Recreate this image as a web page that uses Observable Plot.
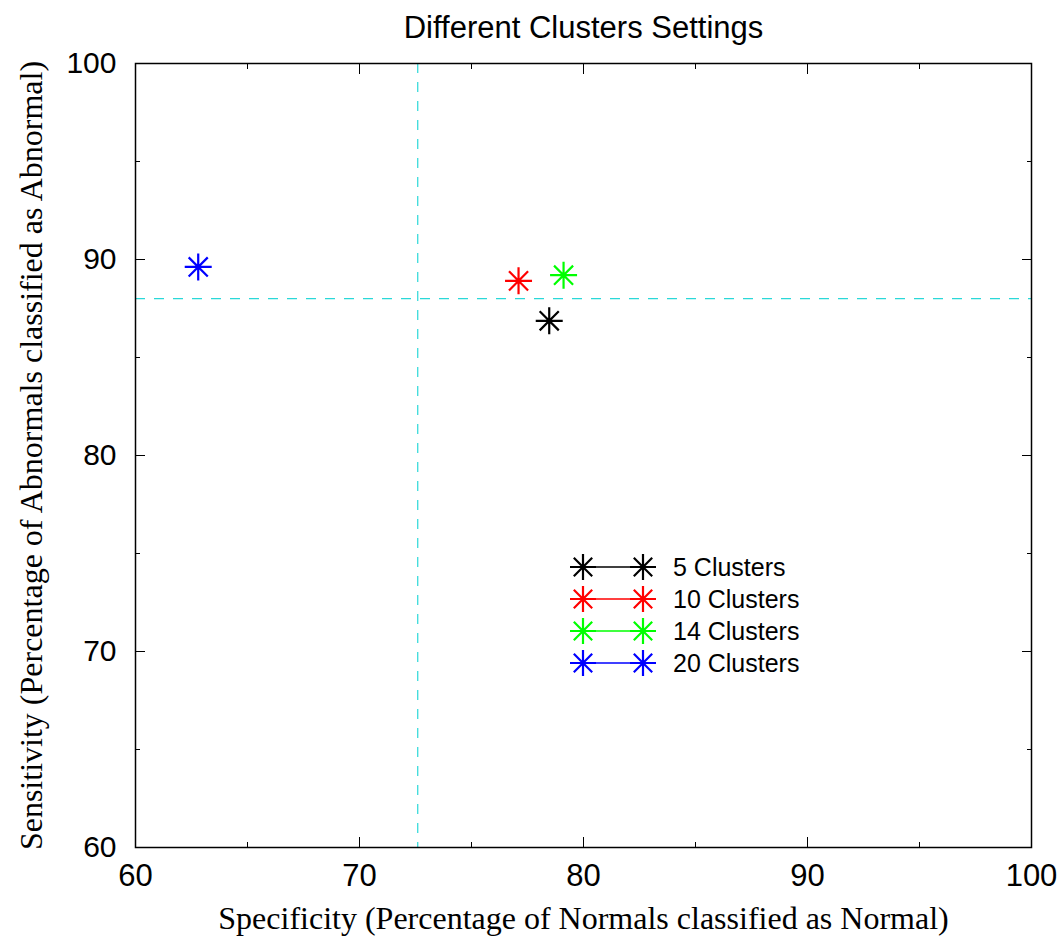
<!DOCTYPE html>
<html>
<head>
<meta charset="utf-8">
<script src="https://cdn.jsdelivr.net/npm/d3@7"></script>
<script src="https://cdn.jsdelivr.net/npm/@observablehq/plot@0.6"></script>
<style>
  html, body { margin: 0; padding: 0; background: #fff; }
  #wrap { position: relative; width: 1062px; height: 936px; }
  #legend { position: absolute; left: 565px; top: 551px; font-family: "Liberation Sans", Arial, sans-serif; font-size: 25px; }
  #legend .row { position: relative; height: 32px; display: flex; align-items: center; }
  #legend .row span { margin-left: 12px; color: #000; }
</style>
</head>
<body>
<div id="wrap"></div>
<script>
// ---- data ----
const series = ["5 Clusters", "10 Clusters", "14 Clusters", "20 Clusters"];
const specificity = [78.47, 77.10, 79.11, 62.80];
const sensitivity = [86.87, 88.91, 89.20, 89.62];
const colors = ["#000000", "#ff0000", "#00ff00", "#0000ff"];
const thresholdSpecificity = [72.6];
const thresholdSensitivity = [88];
const xMajorTicks = [60, 70, 80, 90, 100];
const xMinorTicks = [65, 75, 85, 95];
const yMajorTicks = [60, 70, 80, 90, 100];
const yMinorTicks = [65, 75, 85, 95];
const titleText = "Different Clusters Settings";
const xLabel = "Specificity (Percentage of Normals classified as Normal)";
const yLabel = "Sensitivity (Percentage of Abnormals classified as Abnormal)";

const points = series.map((s, i) => ({series: s, x: specificity[i], y: sensitivity[i], color: colors[i]}));

// 8-armed asterisk symbol (gnuplot style)
const asterisk8 = {
  draw(context, size) {
    const r = Math.sqrt(size / Math.PI);
    const d = r * Math.SQRT1_2;
    context.moveTo(-r, 0); context.lineTo(r, 0);
    context.moveTo(0, -r); context.lineTo(0, r);
    context.moveTo(-d, -d); context.lineTo(d, d);
    context.moveTo(-d, d); context.lineTo(d, -d);
  }
};

const sans = "'Liberation Sans', Arial, sans-serif";
const serif = "'Liberation Serif', 'Times New Roman', serif";

const chart = Plot.plot({
  width: 1062,
  height: 936,
  marginTop: 63,
  marginLeft: 135,
  marginRight: 31,
  marginBottom: 89,
  style: {background: "#fff", fontFamily: sans, overflow: "visible"},
  x: {domain: [60, 100]},
  y: {domain: [60, 100]},
  marks: [
    // threshold lines
    Plot.ruleX(thresholdSpecificity, {stroke: "#2ad8d8", strokeWidth: 1.2, strokeDasharray: "10,9"}),
    Plot.ruleY(thresholdSensitivity, {stroke: "#2ad8d8", strokeWidth: 1.2, strokeDasharray: "10,9"}),
    // tick labels
    Plot.axisX({ticks: xMajorTicks, tickSize: 0, tickPadding: 16, fontSize: 31, label: null, fontFamily: sans}),
    Plot.axisY({ticks: yMajorTicks, tickSize: 0, tickPadding: 19, fontSize: 30, label: null, fontFamily: sans}),
    // inward ticks on all four sides
    Plot.axisX({ticks: xMajorTicks, anchor: "bottom", tickSize: -10, tickFormat: () => "", label: null}),
    Plot.axisX({ticks: xMinorTicks, anchor: "bottom", tickSize: -5, tickFormat: () => "", label: null}),
    Plot.axisX({ticks: xMajorTicks, anchor: "top", tickSize: -10, tickFormat: () => "", label: null}),
    Plot.axisX({ticks: xMinorTicks, anchor: "top", tickSize: -5, tickFormat: () => "", label: null}),
    Plot.axisY({ticks: yMajorTicks, anchor: "left", tickSize: -10, tickFormat: () => "", label: null}),
    Plot.axisY({ticks: yMinorTicks, anchor: "left", tickSize: -5, tickFormat: () => "", label: null}),
    Plot.axisY({ticks: yMajorTicks, anchor: "right", tickSize: -10, tickFormat: () => "", label: null}),
    Plot.axisY({ticks: yMinorTicks, anchor: "right", tickSize: -5, tickFormat: () => "", label: null}),
    Plot.frame({stroke: "#000", strokeWidth: 1.5}),
    // points
    Plot.dot(points, {x: "x", y: "y", stroke: "color", symbol: () => asterisk8, r: 13.5, strokeWidth: 2.2, fill: "none"}),
    // title and axis labels
    Plot.text([titleText], {frameAnchor: "top", lineAnchor: "top", dy: -48, fontSize: 31, fontFamily: sans, fill: "#000"}),
    Plot.text([xLabel], {frameAnchor: "bottom", lineAnchor: "bottom", dy: 81, fontSize: 32, fontFamily: serif, fill: "#000"}),
    Plot.text([yLabel], {frameAnchor: "left", textAnchor: "middle", lineAnchor: "middle", dx: -104, rotate: -90, fontSize: 32, fontFamily: serif, fill: "#000"})
  ]
});

const wrap = document.getElementById("wrap");
wrap.appendChild(chart);

// legend
const legend = document.createElement("div");
legend.id = "legend";
series.forEach((s, i) => {
  const row = document.createElement("div");
  row.className = "row";
  const svg = d3.create("svg").attr("width", 96).attr("height", 32);
  const g = svg.append("g").attr("stroke", colors[i]).attr("fill", "none");
  g.append("line").attr("x1", 18).attr("x2", 78).attr("y1", 16).attr("y2", 16).attr("stroke-width", 1.3);
  [18, 78].forEach(cx => {
    const p = d3.path();
    asterisk8.draw(p, 13 * 13 * Math.PI);
    g.append("path").attr("d", p.toString()).attr("transform", `translate(${cx},16)`).attr("stroke-width", 2.2);
  });
  row.appendChild(svg.node());
  const span = document.createElement("span");
  span.textContent = s;
  row.appendChild(span);
  legend.appendChild(row);
});
wrap.appendChild(legend);
</script>
</body>
</html>
